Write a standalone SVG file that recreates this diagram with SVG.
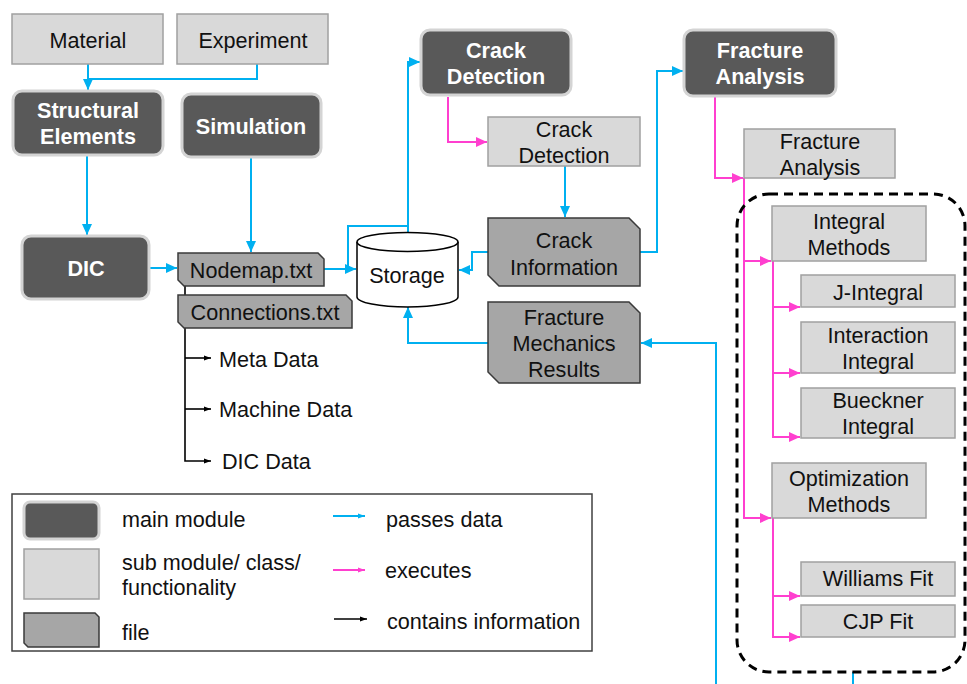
<svg xmlns="http://www.w3.org/2000/svg" width="967" height="684" viewBox="0 0 967 684">
<defs>
<marker id="ab" markerUnits="userSpaceOnUse" markerWidth="12" markerHeight="12" viewBox="0 0 12 12" refX="11" refY="6" orient="auto"><path d="M0,1 L11,6 L0,11 Z" fill="#00b0f0"/></marker>
<marker id="ap" markerUnits="userSpaceOnUse" markerWidth="12" markerHeight="12" viewBox="0 0 12 12" refX="11" refY="6" orient="auto"><path d="M0,1 L11,6 L0,11 Z" fill="#ff3fcf"/></marker>
<marker id="ak" markerUnits="userSpaceOnUse" markerWidth="8" markerHeight="8" viewBox="0 0 8 8" refX="7" refY="4" orient="auto"><path d="M0,1.5 L7,4 L0,6.5 Z" fill="#000"/></marker>
<marker id="abs" markerUnits="userSpaceOnUse" markerWidth="8" markerHeight="8" viewBox="0 0 8 8" refX="7" refY="4" orient="auto"><path d="M0,1.5 L7,4 L0,6.5 Z" fill="#00b0f0"/></marker>
<marker id="aps" markerUnits="userSpaceOnUse" markerWidth="8" markerHeight="8" viewBox="0 0 8 8" refX="7" refY="4" orient="auto"><path d="M0,1.5 L7,4 L0,6.5 Z" fill="#ff3fcf"/></marker>
</defs>
<style>
text{font-family:"Liberation Sans",Arial,sans-serif;font-size:21.6px;fill:#111;text-anchor:middle}
.main rect{fill:#595959;stroke:#d4d4d4;stroke-width:3}
.main text{fill:#fff;font-weight:bold}
.sub rect{fill:#d9d9d9;stroke:#a0a0a0;stroke-width:1.5}
.file path{fill:#a6a6a6;stroke:#3a3a3a;stroke-width:1.5}
.b{fill:none;stroke:#00b0f0;stroke-width:2}
.p{fill:none;stroke:#ff3fcf;stroke-width:2}
.k{fill:none;stroke:#000;stroke-width:1.6}
.l{text-anchor:start}
</style>
<rect width="967" height="684" fill="#fff"/>

<g id="connectors">
<path class="b" d="M88,64 V79 H257 V64 M88,79 V90" marker-end="url(#ab)"/>
<path class="b" d="M87,156 V235" marker-end="url(#ab)"/>
<path class="b" d="M251,158 V252" marker-end="url(#ab)"/>
<path class="b" d="M150,268 H177" marker-end="url(#ab)"/>
<path class="b" d="M324,269 H356" marker-end="url(#ab)"/>
<path class="b" d="M348,269 V226 H408"/>
<path class="b" d="M408,233 V62 H420" marker-end="url(#ab)"/>
<path class="p" d="M448,97 V142 H487" marker-end="url(#ap)"/>
<path class="b" d="M565,166 V217" marker-end="url(#ab)"/>
<path class="b" d="M488,252 H472 V270 H459" marker-end="url(#ab)"/>
<path class="b" d="M640,252 H657 V71 H683" marker-end="url(#ab)"/>
<path class="b" d="M488,343 H408 V307" marker-end="url(#ab)" stroke="#4cc6f3"/>
<path class="b" d="M716,684 V343 H641" marker-end="url(#ab)"/>
<path class="b" d="M853,672 V684"/>
<path class="p" d="M715,97 V178 H743" marker-end="url(#ap)"/>
<path class="p" d="M744,178 V518 H771" marker-end="url(#ap)"/>
<path class="p" d="M744,261 H771" marker-end="url(#ap)"/>
<path class="p" d="M773,261 V437 H800" marker-end="url(#ap)"/>
<path class="p" d="M773,307 H800" marker-end="url(#ap)"/>
<path class="p" d="M773,373 H800" marker-end="url(#ap)"/>
<path class="p" d="M773,518 V637 H800" marker-end="url(#ap)"/>
<path class="p" d="M773,596 H800" marker-end="url(#ap)"/>
<path class="k" d="M185,286 V461 H211" marker-end="url(#ak)"/>
<path class="k" d="M185,358 H211" marker-end="url(#ak)"/>
<path class="k" d="M185,409 H211" marker-end="url(#ak)"/>
</g>

<rect id="group-box" x="737" y="194" width="228" height="478" rx="32" fill="none" stroke="#000" stroke-width="3" stroke-dasharray="9,6"/>

<g id="material" class="sub"><rect x="12" y="14" width="151" height="50"/><text x="88" y="48">Material</text></g>
<g id="experiment" class="sub"><rect x="177" y="14" width="151" height="50"/><text x="253" y="48">Experiment</text></g>
<g id="structural-elements" class="main"><rect x="13" y="91" width="150" height="64" rx="9"/><text x="88" y="118">Structural</text><text x="88" y="144">Elements</text></g>
<g id="simulation" class="main"><rect x="182" y="94" width="139" height="63" rx="9"/><text x="251" y="134">Simulation</text></g>
<g id="dic" class="main"><rect x="22" y="236" width="127" height="63" rx="9"/><text x="86" y="276">DIC</text></g>

<g id="nodemap" class="file"><path d="M178,253 H318 L324,259 V286 H184 L178,280 Z"/><text x="251" y="278">Nodemap.txt</text></g>
<g id="connections" class="file"><path d="M178,295 H346 L352,301 V328 H184 L178,322 Z"/><text x="265" y="320">Connections.txt</text></g>
<g id="meta-data"><text class="l" x="219" y="367">Meta Data</text></g>
<g id="machine-data"><text class="l" x="219" y="417">Machine Data</text></g>
<g id="dic-data"><text class="l" x="222" y="469">DIC Data</text></g>

<g id="storage">
<path d="M357,242 V297 A50.5,10 0 0 0 458,297 V242" fill="#fff" stroke="#000" stroke-width="1.5"/>
<ellipse cx="407.5" cy="242" rx="50.5" ry="9.5" fill="#fff" stroke="#000" stroke-width="1.5"/>
<text x="407" y="283">Storage</text>
</g>

<g id="crack-detection-main" class="main"><rect x="421" y="30" width="150" height="65" rx="9"/><text x="496" y="58">Crack</text><text x="496" y="84">Detection</text></g>
<g id="crack-detection-sub" class="sub"><rect x="488" y="117" width="152" height="49"/><text x="564" y="137">Crack</text><text x="564" y="163">Detection</text></g>
<g id="crack-information" class="file"><path d="M488,218 H629 L640,229 V286 H499 L488,275 Z"/><text x="564" y="248">Crack</text><text x="564" y="275">Information</text></g>
<g id="fracture-mechanics-results" class="file"><path d="M488,302 H629 L640,313 V383 H499 L488,372 Z"/><text x="564" y="325">Fracture</text><text x="564" y="351">Mechanics</text><text x="564" y="377">Results</text></g>

<g id="fracture-analysis-main" class="main"><rect x="684" y="30" width="152" height="66" rx="9"/><text x="760" y="58">Fracture</text><text x="760" y="84">Analysis</text></g>
<g id="fracture-analysis-sub" class="sub"><rect x="744" y="129" width="151" height="49"/><text x="820" y="149">Fracture</text><text x="820" y="175">Analysis</text></g>
<g id="integral-methods" class="sub"><rect x="772" y="206" width="154" height="55"/><text x="849" y="229">Integral</text><text x="849" y="255">Methods</text></g>
<g id="j-integral" class="sub"><rect x="801" y="275" width="154" height="32"/><text x="878" y="300">J-Integral</text></g>
<g id="interaction-integral" class="sub"><rect x="801" y="322" width="154" height="51"/><text x="878" y="343">Interaction</text><text x="878" y="369">Integral</text></g>
<g id="bueckner-integral" class="sub"><rect x="801" y="388" width="154" height="50"/><text x="878" y="408">Bueckner</text><text x="878" y="434">Integral</text></g>
<g id="optimization-methods" class="sub"><rect x="772" y="463" width="154" height="55"/><text x="849" y="486">Optimization</text><text x="849" y="512">Methods</text></g>
<g id="williams-fit" class="sub"><rect x="801" y="562" width="154" height="34"/><text x="878" y="586">Williams Fit</text></g>
<g id="cjp-fit" class="sub"><rect x="801" y="605" width="154" height="32"/><text x="878" y="629">CJP Fit</text></g>

<g id="legend">
<rect x="12" y="494" width="580" height="157" fill="#fff" stroke="#404040" stroke-width="1.5"/>
<g class="main"><rect x="24" y="502" width="75" height="37" rx="6"/></g>
<g class="sub"><rect x="24" y="549" width="75" height="50"/></g>
<g class="file"><path d="M24,613 H95 L99,617 V647 H28 L24,643 Z"/></g>
<text class="l" x="122" y="527">main module</text>
<text class="l" x="122" y="570">sub module/ class/</text>
<text class="l" x="122" y="595">functionality</text>
<text class="l" x="122" y="640">file</text>
<path class="b" d="M333,516 H365" marker-end="url(#abs)"/>
<path class="p" d="M333,570 H365" marker-end="url(#aps)"/>
<path class="k" d="M334,619 H367" marker-end="url(#ak)"/>
<text class="l" x="386" y="527">passes data</text>
<text class="l" x="385" y="578">executes</text>
<text class="l" x="387" y="629">contains information</text>
</g>
</svg>
